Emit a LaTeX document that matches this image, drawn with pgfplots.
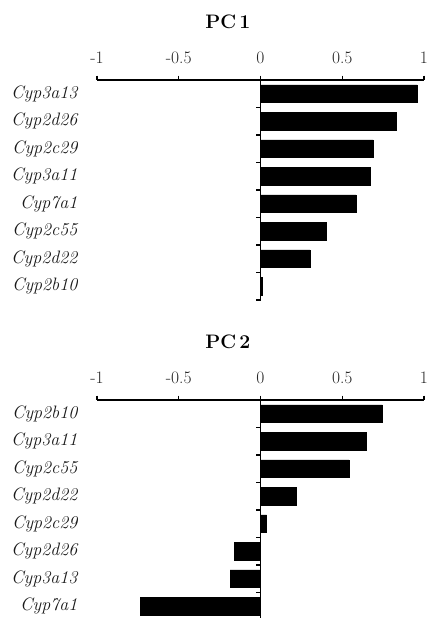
\documentclass[border=0pt]{standalone}
\usepackage{pgfplots}
\pgfplotsset{compat=1.18}
\begin{document}
\begin{tikzpicture}
\useasboundingbox (0,0) rectangle (427pt,-618pt);
\pgfplotsset{
  pcstyle/.style={
    scale only axis,
    width=327pt,
    xmin=-1, xmax=1,
    ymin=-0.5, ymax=7.5,
    y dir=reverse,
    axis x line*=top,
    axis y line*=left,
    x axis line style={-, line width=1.2pt},
    y axis line style={draw=none},
    xtick={-1,-0.5,0,0.5,1},
    xticklabels={-1,-0.5,0,0.5,1},
    tick align=outside,
    major tick length=4.5pt,
    x tick style={black, line width=1.2pt},
    y tick style={draw=none},
    xticklabel style={font=\fontsize{17.5}{20}\selectfont, text=black!85, yshift=8pt},
    ytick={0,...,7},
    yticklabel style={font=\fontsize{18}{21}\selectfont\itshape, text=black!90, anchor=east, inner sep=0pt, xshift=-15pt},
    xbar, bar width=0.65, bar shift=0pt,
    clip=false,
    title style={font=\fontsize{19.5}{22}\selectfont\bfseries, anchor=center, at={(0.40,1)}, yshift=52pt},
  },
}
% PC 1
\begin{axis}[pcstyle, height=220pt, at={(97pt,-80pt)}, anchor=north west,
  title={PC\,1},
  yticklabels={Cyp3a13,Cyp2d26,Cyp2c29,Cyp3a11,Cyp7a1,Cyp2c55,Cyp2d22,Cyp2b10}]
\addplot[fill=black, draw=black] coordinates {
  (0.958,0) (0.828,1) (0.689,2) (0.671,3) (0.583,4) (0.402,5) (0.302,6) (0.01,7)};
\draw[line width=1.2pt] (axis cs:0,-0.5) -- (axis cs:0,7.5);
\pgfplotsinvokeforeach{0.5,1.5,2.5,3.5,4.5,5.5,6.5,7.5}{
  \draw[line width=1.2pt] (axis cs:0,#1) -- ++(-4.5pt,0pt);
}
\end{axis}
% PC 2
\begin{axis}[pcstyle, height=220pt, at={(97pt,-400pt)}, anchor=north west,
  title={PC\,2},
  yticklabels={Cyp2b10,Cyp3a11,Cyp2c55,Cyp2d22,Cyp2c29,Cyp2d26,Cyp3a13,Cyp7a1}]
\addplot[fill=black, draw=black] coordinates {
  (0.746,0) (0.646,1) (0.540,2) (0.220,3) (0.037,4) (-0.159,5) (-0.186,6) (-0.736,7)};
\draw[line width=1.2pt] (axis cs:0,-0.5) -- (axis cs:0,7.5);
\pgfplotsinvokeforeach{0.5,1.5,2.5,3.5,4.5,5.5,6.5,7.5}{
  \draw[line width=1.2pt] (axis cs:0,#1) -- ++(-4.5pt,0pt);
}
\end{axis}
\end{tikzpicture}
\end{document}
